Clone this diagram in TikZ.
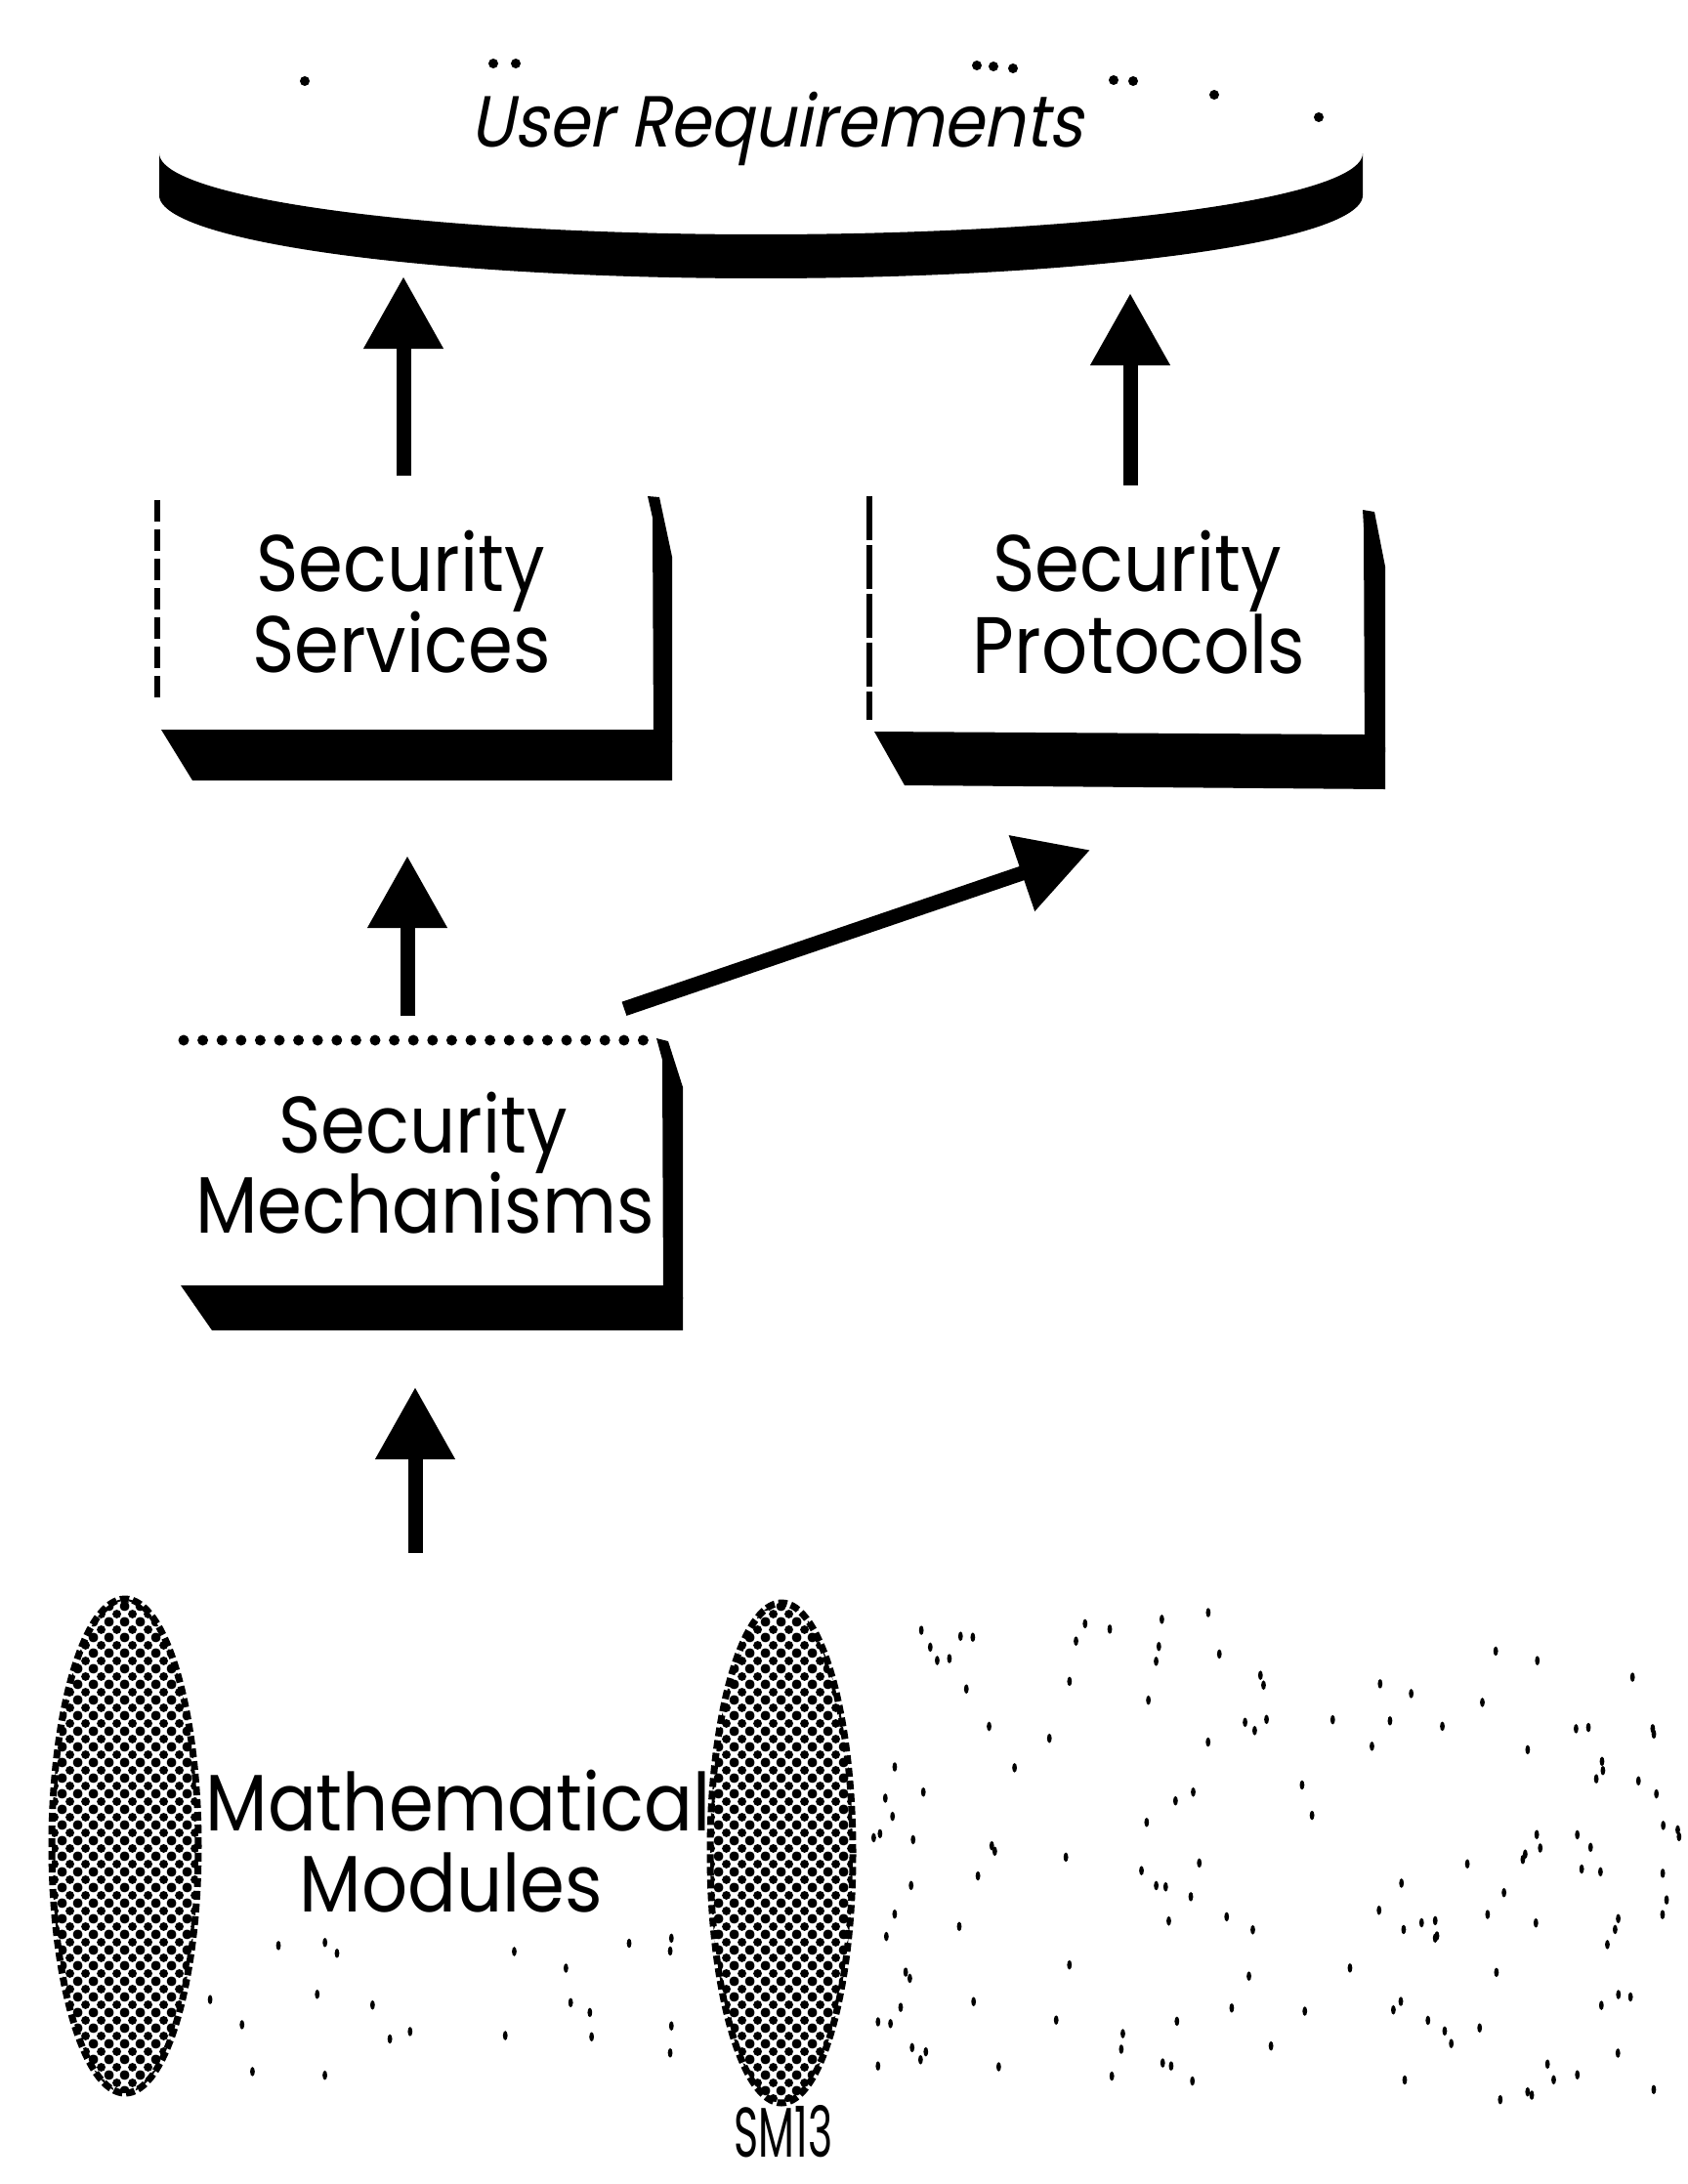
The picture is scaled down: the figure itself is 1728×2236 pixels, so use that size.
\documentclass[tikz,border=0pt]{standalone}
\usepackage{fontspec}
\usetikzlibrary{arrows.meta,shapes.geometric,patterns.meta}
\newfontfamily\gfont[FakeStretch=0.9]{Poppins}
\newfontfamily\gslant[FakeSlant=0.2,FakeStretch=0.9]{Poppins}

% coarse halftone used for the two lens shapes
\tikzdeclarepattern{
  name=halftone,
  type=uncolored,
  bounding box={(0pt,0pt) and (16pt,16pt)},
  tile size={(16pt,16pt)},
  code={
    \fill (8pt,8pt) circle (4.7pt);
    \fill (0pt,0pt) circle (4.7pt);
    \fill (16pt,0pt) circle (4.7pt);
    \fill (0pt,16pt) circle (4.7pt);
    \fill (16pt,16pt) circle (4.7pt);
  }
}

\begin{document}
\begin{tikzpicture}[x=1pt,y=-1pt,
  lbl/.style={font=\gfont\fontsize{82}{82}\selectfont, inner sep=0pt, anchor=base},
  ttl/.style={font=\gslant\fontsize{74}{74}\selectfont, inner sep=0pt, anchor=base},
  frame/.style={rectangle, draw=none, inner sep=0pt},
  slab/.style={fill=black},
  arr/.style={line width=15pt, -{Triangle[length=74pt,width=78pt]}},
  lens/.style={ellipse, inner sep=0pt, pattern=halftone, draw=black, line width=7pt,
               dash pattern=on 9pt off 4pt},
  speck/.style={fill=black}]

\fill[white] (0,0) rectangle (1728,2236);
\useasboundingbox (0,0) rectangle (1728,2236);

% ---------- frames of the blocks ----------
\node[frame, minimum width=1232pt, minimum height=225pt] (ur) at (779,172.5) {};
\node[frame, minimum width=527pt, minimum height=291pt] (ss) at (424.5,653.5) {};
\node[frame, minimum width=528pt, minimum height=300pt] (sp) at (1154,658) {};
\node[frame, minimum width=523pt, minimum height=299pt] (sm) at (437.5,1212.5) {};
\node[frame, minimum width=556pt, minimum height=510pt] (mm) at (466,1895) {};

% ---------- User Requirements: a flat dish ----------
\fill[black]
  plot[domain=180:360, samples=120] ({779+616*cos(\x)}, {157-83*sin(\x)})
  -- (1395,200)
  -- plot[domain=0:180, samples=120] ({779+616*cos(\x)}, {200+85*sin(\x)})
  -- cycle;
% remains of the dotted rim
\foreach \p in {(312,83),(505,65),(528,65),(1000,67),(1017,68),(1037,70),
                (1140,82),(1160,83),(1243,97),(1350,120)}
  \fill \p circle (5pt);
\node[ttl] (urt) at (795,150) {User Requirements};

% ---------- Security Services ----------
\draw[line width=6pt, dash pattern=on 22pt off 8pt] (161,512) -- (161,715);
\fill[slab] (663,508) -- (675,509) -- (688,570) -- (688,760) -- (669,760) -- (668,530) -- cycle;
\fill[slab] (165,747) -- (669,747) -- (688,758) -- (688,799) -- (197,799) -- cycle;
\node[lbl] (ss1) at (410,605) {Security};
\node[lbl] (ss2) at (411,688) {Services};

% ---------- Security Protocols ----------
\draw[line width=6pt, dash pattern=on 45pt off 5pt] (890,508) -- (890,737);
\fill[slab] (1395,522) -- (1407,524) -- (1418,580) -- (1418,770) -- (1397,770) -- (1396,540) -- cycle;
\fill[slab] (895,749) -- (1397,752) -- (1418,765) -- (1418,808) -- (926,804) -- cycle;
\node[lbl] (sp1) at (1164,605) {Security};
\node[lbl] (sp2) at (1166,689) {Protocols};

% ---------- Security Mechanisms ----------
\draw[line width=11pt, line cap=round, dash pattern=on 0pt off 19.6pt] (188,1065) -- (664,1065);
\fill[slab] (672,1063) -- (684,1066) -- (699,1113) -- (699,1330) -- (679,1330) -- (678,1085) -- cycle;
\fill[slab] (185,1316) -- (679,1316) -- (699,1328) -- (699,1362) -- (217,1362) -- cycle;
\node[lbl] (sm1) at (433,1180) {Security};
\node[lbl] (sm2) at (435,1262) {Mechanisms};

% ---------- Mathematical Modules between two lenses ----------
\node[lens, minimum width=150pt, minimum height=506pt] (el1) at (128,1890) {};
\node[lens, minimum width=146pt, minimum height=512pt] (el2) at (800,1897) {};
\node[lbl] (mm1) at (469,1874) {Mathematical};
\node[lbl] (mm2) at (462,1957) {Modules};
\node[lbl, text depth=0pt, font=\gfont\fontsize{72}{72}\selectfont] (fig) at (802,2208) {\scalebox{0.66}[1]{SM13}};

% ---------- connectors ----------
\draw[arr] ([shift={(-11.5,-21)}]ss.north) -- ([shift={(-366,-2)}]ur.south);
\draw[arr] ([shift={(3,-11)}]sp.north) -- ([shift={(378,15)}]ur.south);
\draw[arr] ([shift={(-20.5,-23)}]sm.north) -- ([shift={(-7.5,77)}]ss.south);
\draw[arr] ([shift={(201.5,-30)}]sm.north) -- ([shift={(-38,62)}]sp.south);
\draw[arr] ([shift={(-41,-50)}]mm.north) -- ([shift={(-12.5,58)}]sm.south);

% ---------- loose specks ----------
\pgfmathsetseed{4711}
\foreach \i in {1,...,130} {
  \pgfmathsetmacro\px{940+780*rnd}
  \pgfmathsetmacro\py{1650+500*rnd}
  \fill[speck] (\px,\py) ellipse [x radius=2.4pt, y radius=4.8pt];
}
\foreach \i in {1,...,22} {
  \pgfmathsetmacro\px{210+510*rnd}
  \pgfmathsetmacro\py{1960+180*rnd}
  \fill[speck] (\px,\py) ellipse [x radius=2.4pt, y radius=4.8pt];
}
\foreach \i in {1,...,16} {
  \pgfmathsetmacro\px{885+55*rnd}
  \pgfmathsetmacro\py{1800+330*rnd}
  \fill[speck] (\px,\py) ellipse [x radius=2.4pt, y radius=4.8pt];
}
\end{tikzpicture}
\end{document}
